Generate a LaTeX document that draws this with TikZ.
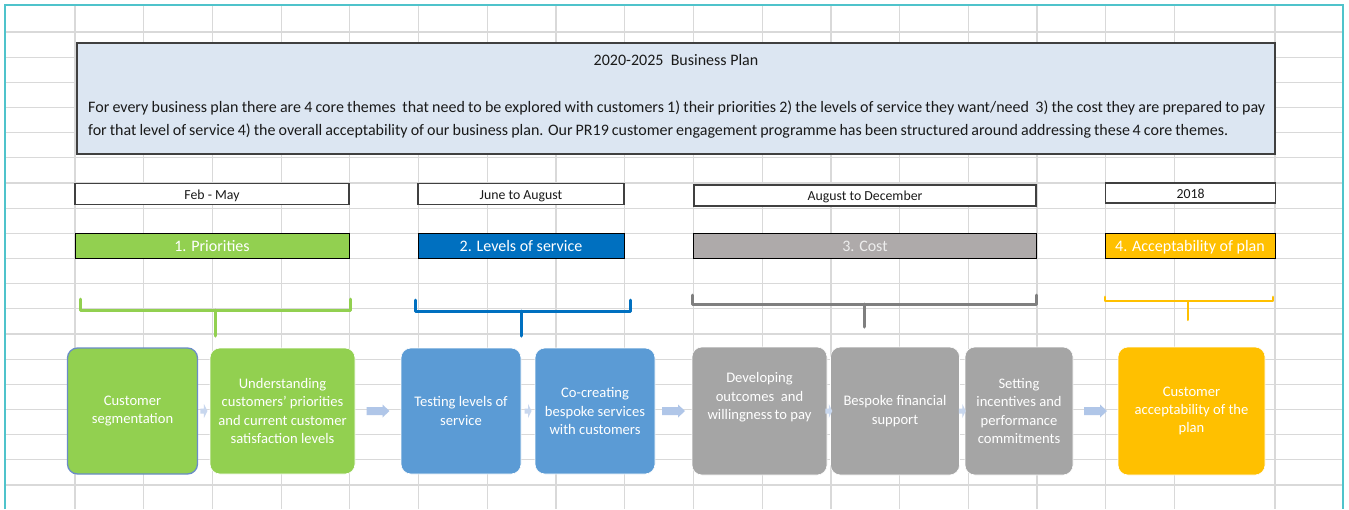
\documentclass[tikz,border=0pt]{standalone}
\usepackage{fontspec}
\setmainfont{Carlito}
\usetikzlibrary{calc}

\definecolor{gridgray}{HTML}{D9D9D9}
\definecolor{frameteal}{HTML}{4FC3CB}
\definecolor{planfill}{HTML}{DCE6F2}
\definecolor{edgegray}{HTML}{404040}
\definecolor{textdark}{HTML}{1A1A1A}
\definecolor{prioritygreen}{HTML}{92D050}
\definecolor{servicebar}{HTML}{0070C0}
\definecolor{costbar}{HTML}{AEAAAA}
\definecolor{plangold}{HTML}{FFC000}
\definecolor{stepblue}{HTML}{5B9BD5}
\definecolor{stepgray}{HTML}{A5A5A5}
\definecolor{flowblue}{HTML}{B0C6E8}
\definecolor{flowpale}{HTML}{C8D7EE}
\definecolor{bracegray}{HTML}{7F7F7F}
\definecolor{segedge}{HTML}{6A8CC7}

\tikzset{
  gridline/.style={draw=gridgray, line width=1.2pt},
  sheetframe/.style={draw=frameteal, line width=2.5pt},
  planbox/.style={draw=edgegray, fill=planfill, line width=1.2pt, inner sep=0,
    minimum width=1198, minimum height=111},
  plantext/.style={inner sep=0, text=textdark, font=\fontsize{16}{18}\selectfont},
  datebox/.style={draw=edgegray, fill=white, line width=1.2pt, inner sep=0,
    minimum height=21, text=textdark, font=\fontsize{13.8}{15}\selectfont,
    text height=1.0em, text depth=-0.04em},
  themebar/.style={draw=black, line width=1pt, inner sep=0, minimum height=25,
    text=white, font=\fontsize{16}{18}\selectfont, text height=1.25em, text depth=-0.05em},
  stepbox/.style={rounded corners=10pt, minimum height=126, inner sep=0, text=white,
    align=center, font=\fontsize{14.6}{18.4}\selectfont, draw=white, line width=0.6pt},
  steptext/.style={inner sep=0, text=white, align=center, font=\fontsize{14.6}{18.4}\selectfont},
  brace/.style={line width=3pt, line join=round, line cap=round},
  pics/flowarrow/.style={code={
    \fill[flowblue] (-11.5,-4) -- (4.5,-4) -- (4.5,-6.5) -- (11.5,0)
      -- (4.5,6.5) -- (4.5,4) -- (-11.5,4) -- cycle;}},
  pics/flowtick/.style={code={
    \fill[flowpale] (-3.5,-2.5) -- (0,-2.5) -- (0,-7) -- (3.5,0)
      -- (0,7) -- (0,2.5) -- (-3.5,2.5) -- cycle;}},
}

\begin{document}
\begin{tikzpicture}[x=1pt, y=-1pt]
\useasboundingbox (0,0) rectangle (1349,509);
\fill[white] (0,0) rectangle (1349,509);

% spreadsheet cells
\foreach \k in {0,...,16}
  \draw[gridline] ({75+68.72*\k},5) -- ({75+68.72*\k},509);
\draw[gridline] (1275,5) -- (1275,509);
\foreach \k in {0,...,18}
  \draw[gridline] (5,{32+25.17*\k}) -- (1343,{32+25.17*\k});

% sheet border
\draw[sheetframe] (5,509) -- (5,5) -- (1343,5) -- (1343,509);

% plan summary
\node[planbox] (plan) at (676,98.5) {};
\node[plantext, anchor=base] (plantitle) at (676,65) {2020-2025\ \ Business Plan};
\node[plantext, anchor=base west] (planline1) at (88,112)
  {\makebox[1177pt][s]{For every business plan there are 4 core themes\ \ that need to be explored with customers 1) their priorities 2) the levels of service they want/need\ \ 3) the cost they are prepared to pay}};
\node[plantext, anchor=base west] (planline2) at (88,135)
  {\makebox[1140pt][s]{for that level of service 4) the overall acceptability of our business plan. Our PR19 customer engagement programme has been structured around addressing these\,4 core themes.}};

% timing
\node[datebox, minimum width=274] (d1) at (212,194) {Feb - May};
\node[datebox, minimum width=206] (d2) at (521,194) {June to August};
\node[datebox, minimum width=342] (d3) at (865,195.5) {August to December};
\node[datebox, minimum width=170, minimum height=20] (d4) at (1190.5,193) {2018};

% themes
\node[themebar, fill=prioritygreen, minimum width=274] (b1) at (212,245.5) {1. Priorities};
\node[themebar, fill=servicebar, minimum width=206] (b2) at (521,245.5) {2. Levels of service};
\node[themebar, fill=costbar, minimum width=343, text=white!93!black] (b3) at (865,245.5) {3. Cost};
\node[themebar, fill=plangold, minimum width=170] (b4) at (1190,245.5) {4. Acceptability of plan};

% brackets grouping the steps
\draw[brace, prioritygreen] (80,299) -- (80,310) -- (350,310) -- (350,299);
\draw[brace, prioritygreen] (215,310) -- (215,336);
\draw[brace, servicebar] (415,300) -- (415,311) -- (630,311) -- (630,300);
\draw[brace, servicebar] (521,311) -- (521,336);
\draw[brace, bracegray] (692,295) -- (692,304) -- (1036,304) -- (1036,295);
\draw[brace, bracegray] (864,304) -- (864,327);
\draw[brace, plangold, line width=2.8pt] (1105,297) -- (1105,301) -- (1273,301) -- (1273,297);
\draw[brace, plangold, line width=2pt] (1188,301) -- (1188,320);

% steps
\node[stepbox, fill=prioritygreen, draw=segedge, line width=1.3pt, minimum width=130] (s1) at (132.5,411) {Customer\\segmentation};
\node[stepbox, fill=prioritygreen, minimum width=145] (s2) at (282.5,411) {Understanding\\customers’ priorities\\and current customer\\satisfaction levels};
\node[stepbox, fill=stepblue, minimum width=120] (s3) at (461,411) {Testing levels of\\service};
\node[stepbox, fill=stepblue, minimum width=120] (s4) at (595,411) {Co-creating\\bespoke services\\with customers};
\node[stepbox, fill=stepgray, minimum width=135, minimum height=128] (s5) at (759.5,411) {};
\node[steptext] (s5t) at ([yshift=13.5pt]s5.center) {Developing\\outcomes\ \ and\\willingness\,to pay};
\node[stepbox, fill=stepgray, minimum width=129, minimum height=128] (s6) at (895,411) {Bespoke financial\\support};
\node[stepbox, fill=stepgray, minimum width=108, minimum height=128] (s7) at (1019,411) {Setting\\incentives and\\performance\\commitments};
\node[stepbox, fill=plangold, minimum width=147, minimum height=128] (s8) at (1191.5,411) {Customer\\acceptability of the\\plan};

% flow between steps
\coordinate (m12) at ($(s1.east)!0.5!(s2.west)$);
\coordinate (m23) at ($(s2.east)!0.5!(s3.west)$);
\coordinate (m34) at ($(s3.east)!0.5!(s4.west)$);
\coordinate (m45) at ($(s4.east)!0.5!(s5.west)$);
\coordinate (m56) at ($(s5.east)!0.5!(s6.west)$);
\coordinate (m67) at ($(s6.east)!0.5!(s7.west)$);
\coordinate (m78) at ($(s7.east)!0.5!(s8.west)$);
\pic at (m23) {flowarrow};
\pic at (m45) {flowarrow};
\pic at (m78) {flowarrow};
\pic at (m12) {flowtick};
\pic at (m34) {flowtick};
\pic at (m56) {flowtick};
\pic at (m67) {flowtick};
\end{tikzpicture}
\end{document}
